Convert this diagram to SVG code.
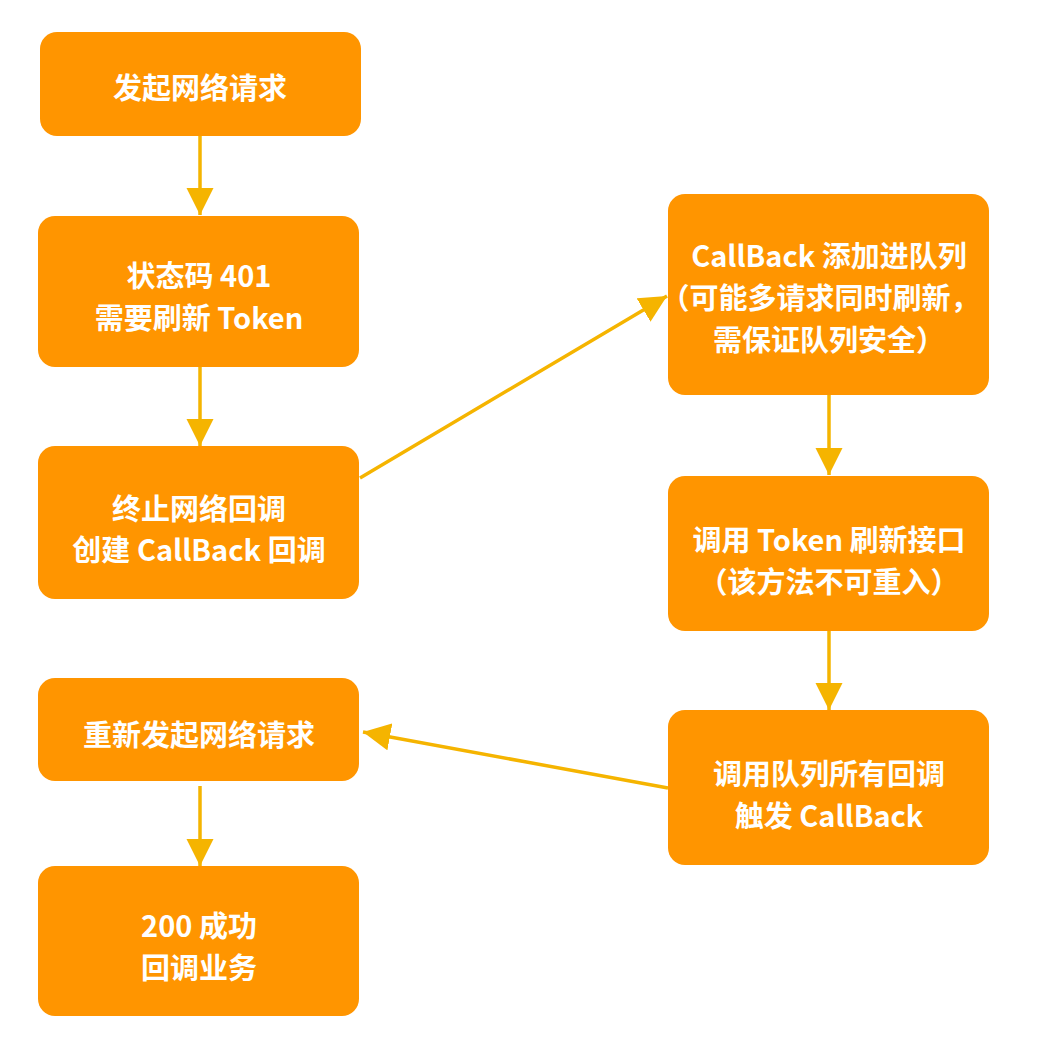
<svg xmlns="http://www.w3.org/2000/svg" width="1038" height="1054" viewBox="0 0 1038 1054">
  <style>
    .box { fill: #FF9500; }
    .label { fill: #FFFFFF; font-family: "Noto Sans CJK SC", "Noto Sans", sans-serif; font-size: 29px; font-weight: bold; text-anchor: middle; dominant-baseline: central; }
    .edge { stroke: #F5B400; stroke-width: 3.5; fill: none; marker-end: url(#head); }
  </style>
  <defs>
    <marker id="head" viewBox="0 0 10 10" refX="10" refY="5" markerWidth="7.8" markerHeight="7.8" markerUnits="strokeWidth" orient="auto">
      <path d="M0,0 L10,5 L0,10 Z" fill="#F5B400"/>
    </marker>
  </defs>
  <rect width="1038" height="1054" fill="#FFFFFF"/>

  <!-- connectors -->
  <g id="connectors">
    <line class="edge" x1="200" y1="136" x2="200" y2="215"/>
    <line class="edge" x1="200" y1="367" x2="200" y2="446"/>
    <line class="edge" x1="360" y1="478" x2="667" y2="296"/>
    <line class="edge" x1="829" y1="395" x2="829" y2="475"/>
    <line class="edge" x1="829" y1="631" x2="829" y2="710"/>
    <line class="edge" x1="668" y1="788" x2="363" y2="732"/>
    <line class="edge" x1="200" y1="786" x2="200" y2="866"/>
  </g>

  <!-- left column -->
  <g id="start-request">
    <rect class="box" x="40" y="32" width="321" height="104" rx="17"/>
    <text class="label" x="200" y="86">发起网络请求</text>
  </g>
  <g id="status-401">
    <rect class="box" x="38" y="216" width="321" height="151" rx="17"/>
    <text class="label" x="199" y="274">状态码 401</text>
    <text class="label" x="199" y="316">需要刷新 Token</text>
  </g>
  <g id="abort-callback">
    <rect class="box" x="38" y="446" width="321" height="153" rx="17"/>
    <text class="label" x="199" y="507">终止网络回调</text>
    <text class="label" x="199" y="548">创建 CallBack 回调</text>
  </g>
  <g id="retry-request">
    <rect class="box" x="38" y="678" width="321" height="103" rx="17"/>
    <text class="label" x="199" y="733">重新发起网络请求</text>
  </g>
  <g id="success">
    <rect class="box" x="38" y="866" width="321" height="150" rx="17"/>
    <text class="label" x="199" y="924">200 成功</text>
    <text class="label" x="199" y="966">回调业务</text>
  </g>

  <!-- right column -->
  <g id="enqueue-callback">
    <rect class="box" x="668" y="194" width="321" height="201" rx="17"/>
    <text class="label" x="829" y="254">CallBack 添加进队列</text>
    <text class="label" x="820" y="296">（可能多请求同时刷新，</text>
    <text class="label" x="829" y="338">需保证队列安全）</text>
  </g>
  <g id="refresh-token">
    <rect class="box" x="668" y="476" width="321" height="155" rx="17"/>
    <text class="label" x="829" y="538">调用 Token 刷新接口</text>
    <text class="label" x="829" y="580">（该方法不可重入）</text>
  </g>
  <g id="dispatch-callbacks">
    <rect class="box" x="668" y="710" width="321" height="155" rx="17"/>
    <text class="label" x="829" y="772">调用队列所有回调</text>
    <text class="label" x="829" y="814">触发 CallBack</text>
  </g>
</svg>
